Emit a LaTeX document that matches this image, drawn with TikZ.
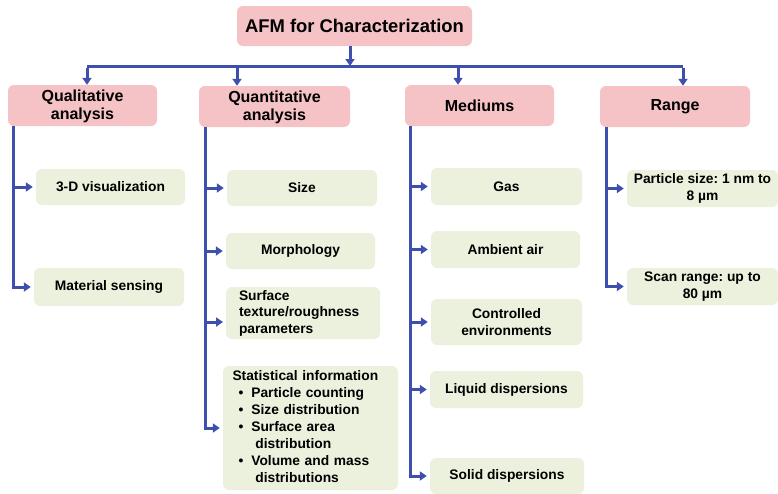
\documentclass[tikz,border=0pt]{standalone}
\usepackage{fontspec}
\setmainfont{Liberation Sans}
\usetikzlibrary{arrows.meta}
\definecolor{headfill}{HTML}{F5C3C5}
\definecolor{leaffill}{HTML}{EBF1DC}
\definecolor{linkblue}{HTML}{3F4FAE}
\frenchspacing
\tikzset{
  headbox/.style={fill=headfill, rounded corners=6pt, align=center,
    font=\bfseries\fontsize{16}{18.5}\selectfont, inner sep=2pt},
  leafbox/.style={fill=leaffill, rounded corners=6pt, align=center,
    font=\bfseries\fontsize{13.8}{16.5}\selectfont, inner sep=2pt},
  link/.style={draw=linkblue, line width=3pt},
  linkarr/.style={link, -{Triangle[length=7pt,width=9pt]}},
}
\begin{document}
\begin{tikzpicture}[x=1pt,y=-1pt]
\useasboundingbox (0,0) rectangle (778,493);
% root and category boxes
\node[headbox, minimum width=235pt, minimum height=40pt,
  font=\bfseries\fontsize{18.4}{21}\selectfont] (root) at (354.5,26) {AFM for Characterization};
\node[headbox, minimum width=149pt, minimum height=41pt, text depth=2pt] (qual) at (82.5,105.5) {Qualitative\\analysis};
\node[headbox, minimum width=151pt, minimum height=41pt, text depth=2pt] (quant) at (274.5,106.5) {Quantitative\\analysis};
\node[headbox, minimum width=149pt, minimum height=41pt] (med) at (479.5,105.5) {Mediums};
\node[headbox, minimum width=150pt, minimum height=41pt] (rng) at (675,106.5) {Range};
% leaf boxes
\node[leafbox, minimum width=149pt, minimum height=36pt] (viz) at (110.5,187) {3-D visualization};
\node[leafbox, minimum width=150pt, minimum height=38pt] (sens) at (109,287) {Material sensing};
\node[leafbox, minimum width=150pt, minimum height=36pt] (size) at (302,188) {Size};
\node[leafbox, minimum width=149pt, minimum height=36pt] (morph) at (300.5,251) {Morphology};
\node[leafbox, minimum width=154pt, minimum height=52pt, align=left, text width=128pt,
  inner sep=0pt] (surf) at (303,313) {Surface\\texture/roughness\\parameters};
\node[leafbox, minimum width=175pt, minimum height=124pt, align=left, inner sep=0pt,
  text width=156pt, font=\bfseries\fontsize{13.8}{17}\selectfont] (stat) at (310.5,428)
  {\begin{tabular}{@{}l@{}l@{}}
   \multicolumn{2}{@{}l@{}}{Statistical information}\\
   \hspace*{6pt}\textbullet\hspace*{4pt} & Particle counting\\
   \hspace*{6pt}\textbullet\hspace*{4pt} & Size distribution\\
   \hspace*{6pt}\textbullet\hspace*{8pt} & Surface area\\
   & \hspace*{4pt}distribution\\
   \hspace*{6pt}\textbullet\hspace*{8pt} & Volume and mass\\
   & \hspace*{4pt}distributions
   \end{tabular}};
\node[leafbox, minimum width=151pt, minimum height=37pt] (gas) at (506.5,186.5) {Gas};
\node[leafbox, minimum width=149pt, minimum height=37pt] (air) at (505.5,249.5) {Ambient air};
\node[leafbox, minimum width=151pt, minimum height=46pt] (ctrl) at (506.5,322) {Controlled\\environments};
\node[leafbox, minimum width=153pt, minimum height=37pt] (liq) at (506.5,389.5) {Liquid dispersions};
\node[leafbox, minimum width=154pt, minimum height=36pt] (solid) at (507,476) {Solid dispersions};
\node[leafbox, minimum width=151pt, minimum height=37pt] (psize) at (702.5,188.5) {Particle size: 1 nm to\\8 µm};
\node[leafbox, minimum width=151pt, minimum height=37pt] (scan) at (702.5,286.5) {Scan range: up to\\80 µm};
% bus and spine positions
\coordinate (b0) at (350,66);
\coordinate (b1) at (87,66);
\coordinate (b2) at (237,66);
\coordinate (b3) at (458,66);
\coordinate (b4) at (683,66);
\coordinate (s1) at (13,0);
\coordinate (s2) at (205,0);
\coordinate (s3) at (410,0);
\coordinate (s4) at (606,0);
\coordinate (surfin) at (226,322);
% root to bus
\draw[linkarr] (root.south -| b0) -- (b0);
\draw[link] (b1) -- (b4);
\draw[linkarr] ([yshift=-1.5pt]b1) -- (b1 |- qual.north);
\draw[linkarr] (b2) -- (b2 |- quant.north);
\draw[linkarr] (b3) -- (b3 |- med.north);
\draw[linkarr] ([yshift=-1.5pt]b4) -- (b4 |- rng.north);
% qualitative branch
\draw[linkarr] (s1 |- qual.south) |- ([xshift=-3pt]sens.west);
\draw[linkarr] (s1 |- viz.west) -- ([xshift=-3pt]viz.west);
% quantitative branch
\draw[linkarr] (s2 |- quant.south) |- ([xshift=-3pt]stat.west);
\draw[linkarr] (s2 |- size.west) -- ([xshift=-3pt]size.west);
\draw[linkarr] (s2 |- morph.west) -- ([xshift=-3pt]morph.west);
\draw[linkarr] (s2 |- surfin) -- ([xshift=-3pt]surfin);
% mediums branch
\draw[linkarr] (s3 |- med.south) |- ([xshift=-3pt]solid.west);
\draw[linkarr] (s3 |- gas.west) -- ([xshift=-3pt]gas.west);
\draw[linkarr] (s3 |- air.west) -- ([xshift=-3pt]air.west);
\draw[linkarr] (s3 |- ctrl.west) -- ([xshift=-3pt]ctrl.west);
\draw[linkarr] (s3 |- liq.west) -- ([xshift=-3pt]liq.west);
% range branch
\draw[linkarr] (s4 |- rng.south) |- ([xshift=-3pt]scan.west);
\draw[linkarr] (s4 |- psize.west) -- ([xshift=-3pt]psize.west);
\end{tikzpicture}
\end{document}
